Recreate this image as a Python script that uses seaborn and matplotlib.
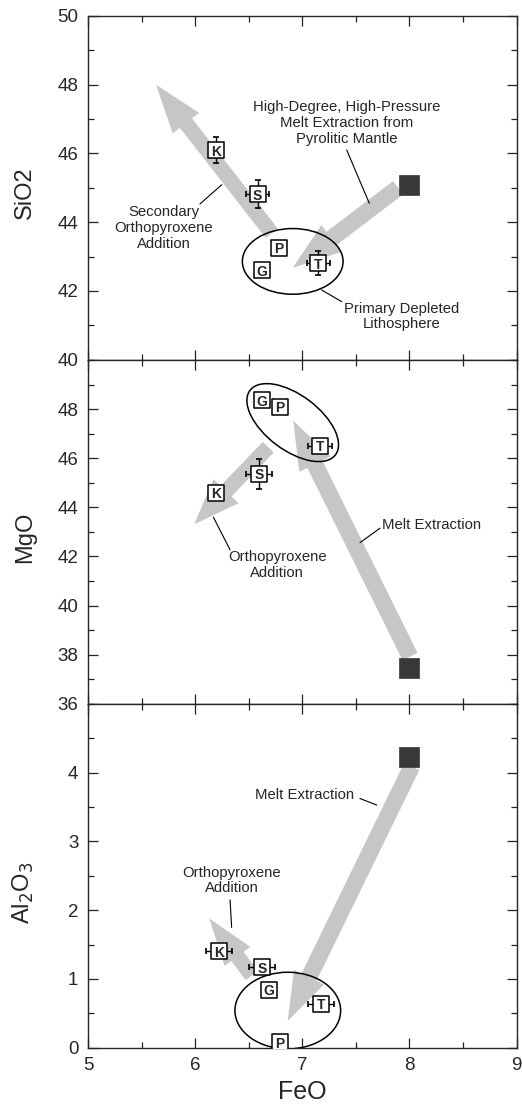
import numpy as np
import pandas as pd
import matplotlib
matplotlib.use("Agg")
import matplotlib.pyplot as plt
import matplotlib.transforms as mtransforms
from matplotlib.patches import Ellipse, FancyArrowPatch
from matplotlib.ticker import MultipleLocator
import seaborn as sns

# ---------------- data ----------------
si_labels = ["K", "S", "P", "G", "T"]
si_feo = [6.195, 6.584, 6.783, 6.627, 7.150]
si_sio2 = [46.1, 44.82, 43.25, 42.6, 42.81]
si_xerr = [0.0, 0.11, 0.0, 0.0, 0.11]
si_yerr = [0.37, 0.41, 0.0, 0.0, 0.35]

mg_labels = ["G", "P", "T", "S", "K"]
mg_feo = [6.627, 6.792, 7.166, 6.599, 6.195]
mg_mgo = [48.37, 48.1, 46.5, 45.36, 44.6]
mg_xerr = [0.0, 0.0, 0.11, 0.12, 0.0]
mg_yerr = [0.0, 0.0, 0.0, 0.6, 0.0]

al_labels = ["K", "S", "G", "T", "P"]
al_feo = [6.223, 6.627, 6.692, 7.175, 6.792]
al_al2o3 = [1.40, 1.17, 0.84, 0.64, 0.08]
al_xerr = [0.12, 0.12, 0.0, 0.12, 0.0]
al_yerr = [0.0, 0.0, 0.0, 0.0, 0.0]

pyrolite_feo = 8.0
pyrolite_sio2 = 45.09
pyrolite_mgo = 37.45
pyrolite_al2o3 = 4.23

x_ticks = [5, 6, 7, 8, 9]
si_ticks = [40, 42, 44, 46, 48, 50]
mg_ticks = [36, 38, 40, 42, 44, 46, 48]
al_ticks = [0, 1, 2, 3, 4]

# ---------------- style ----------------
sns.set_style("ticks")
plt.rcParams["font.family"] = ["Liberation Sans", "DejaVu Sans"]
plt.rcParams["axes.linewidth"] = 1.0

ARROW = "#c6c6c6"
SQUARE = "#383838"

fig = plt.figure(figsize=(5.22, 11.08), dpi=100)
L, R = 88 / 522, 516.5 / 522
tops = [16, 360, 704]
H = 343.7
axes = []
for i, t in enumerate(tops):
    ax = fig.add_axes([L, 1 - (t + H) / 1108, R - L, H / 1108],
                      sharex=axes[0] if axes else None)
    axes.append(ax)
ax1, ax2, ax3 = axes


def add_arrow(ax, start, end, hw=24, hl=35, tw=12):
    p = FancyArrowPatch(start, end,
                        arrowstyle=f"simple,head_length={hl},head_width={hw},tail_width={tw}",
                        mutation_scale=1, color=ARROW, lw=0, shrinkA=0, shrinkB=0, zorder=1)
    ax.add_patch(p)


def add_ellipse(ax, center, w_px, h_px, angle=0):
    tr = fig.dpi_scale_trans + mtransforms.ScaledTranslation(center[0], center[1], ax.transData)
    e = Ellipse((0, 0), w_px / 100, h_px / 100, angle=angle, transform=tr,
                fill=False, edgecolor="black", lw=1.1, zorder=2)
    ax.add_patch(e)


def draw_points(ax, labels, xs, ys, xerr, yerr, ycol, pyro_y):
    df = pd.DataFrame({"label": labels, "FeO": xs, ycol: ys})
    ax.errorbar(xs, ys, xerr=xerr, yerr=yerr, fmt="none", ecolor="black",
                elinewidth=1.0, capsize=2, capthick=1.2, zorder=3)
    sns.scatterplot(data=df, x="FeO", y=ycol, marker="s", s=140, color="white",
                    edgecolor="black", linewidth=1.1, ax=ax, zorder=4, legend=False)
    for lab, x, y in zip(labels, xs, ys):
        ax.text(x, y, lab, ha="center", va="center_baseline", fontsize=10,
                fontweight="bold", zorder=5)
    pdf = pd.DataFrame({"FeO": [pyrolite_feo], ycol: [pyro_y]})
    sns.scatterplot(data=pdf, x="FeO", y=ycol, marker="s", s=215, color=SQUARE,
                    edgecolor=SQUARE, linewidth=0.5, ax=ax, zorder=4, legend=False)


def leader(ax, p0, p1):
    ax.plot([p0[0], p1[0]], [p0[1], p1[1]], color="black", lw=0.8, zorder=2)


TXT = dict(fontsize=10.7, ha="center", va="center", linespacing=1.15, zorder=6)

# ---------------- panel 1: SiO2 ----------------
ax1.set_xlim(5, 9)
ax1.set_ylim(40, 50)
add_arrow(ax1, (6.715, 43.68), (5.635, 48.0), tw=11)
add_arrow(ax1, (7.894, 45.0), (6.911, 42.67))
add_ellipse(ax1, (6.911, 42.86), 100.7, 65.7)
draw_points(ax1, si_labels, si_feo, si_sio2, si_xerr, si_yerr, "SiO2", pyrolite_sio2)
ax1.text(7.415, 46.89, "High-Degree, High-Pressure\nMelt Extraction from\nPyrolitic Mantle", **TXT)
leader(ax1, (7.415, 46.1), (7.626, 44.55))
ax1.text(5.71, 43.83, "Secondary\nOrthopyroxene\nAddition", **TXT)
leader(ax1, (6.045, 44.53), (6.248, 45.09))
ax1.text(7.928, 41.26, "Primary Depleted\nLithosphere", **TXT)
leader(ax1, (7.18, 42.03), (7.368, 41.69))

# ---------------- panel 2: MgO ----------------
ax2.set_ylim(36, 50)
add_arrow(ax2, (6.683, 46.45), (5.992, 43.31), hw=25, hl=33, tw=11)
add_arrow(ax2, (8.006, 37.92), (6.916, 47.53), hw=25)
add_ellipse(ax2, (6.911, 47.45), 107, 55, angle=-37)
draw_points(ax2, mg_labels, mg_feo, mg_mgo, mg_xerr, mg_yerr, "MgO", pyrolite_mgo)
ax2.text(7.742, 43.29, "Melt Extraction", fontsize=10.7, ha="left", va="center", zorder=6)
leader(ax2, (7.726, 43.15), (7.539, 42.56))
ax2.text(6.767, 41.66, "Orthopyroxene\nAddition", **TXT)
leader(ax2, (6.326, 42.27), (6.17, 43.6))

# ---------------- panel 3: Al2O3 ----------------
ax3.set_ylim(0, 5)
add_arrow(ax3, (8.022, 4.09), (6.864, 0.39))
add_arrow(ax3, (6.528, 1.05), (6.132, 1.88), hw=23, hl=34, tw=11)
add_ellipse(ax3, (6.865, 0.54), 105.7, 76.7)
draw_points(ax3, al_labels, al_feo, al_al2o3, al_xerr, al_yerr, "Al2O3", pyrolite_al2o3)
ax3.text(7.026, 3.67, "Melt Extraction", **TXT)
leader(ax3, (7.539, 3.625), (7.695, 3.53))
ax3.text(6.341, 2.43, "Orthopyroxene\nAddition", **TXT)
leader(ax3, (6.326, 2.15), (6.341, 1.75))

# ---------------- axes formatting ----------------
for ax, ticks, minor in [(ax1, si_ticks, 1), (ax2, mg_ticks, 1), (ax3, al_ticks, 0.5)]:
    ax.set_yticks(ticks)
    ax.yaxis.set_minor_locator(MultipleLocator(minor))
    ax.xaxis.set_minor_locator(MultipleLocator(0.5))
    ax.tick_params(which="both", direction="in", top=True, right=True,
                   labelsize=13.5, pad=7, width=0.9, color="#222222")
    ax.tick_params(which="major", length=7)
    ax.tick_params(which="minor", length=4)
    ax.set_xlabel("")
    for s in ax.spines.values():
        s.set_visible(True)
        s.set_linewidth(1.0)

ax3.set_xticks(x_ticks)
ax1.tick_params(labelbottom=False)
ax2.tick_params(labelbottom=False)

ax1.set_ylabel("SiO2", fontsize=17)
ax2.set_ylabel("MgO", fontsize=17)
ax3.set_ylabel("Al$_2$O$_3$", fontsize=17)
ax1.yaxis.set_label_coords(-0.122, 0.485)
ax2.yaxis.set_label_coords(-0.122, 0.485)
ax3.yaxis.set_label_coords(-0.122, 0.45)
ax3.set_xlabel("FeO", fontsize=18, labelpad=4)

fig.savefig("out.png", dpi=100)
